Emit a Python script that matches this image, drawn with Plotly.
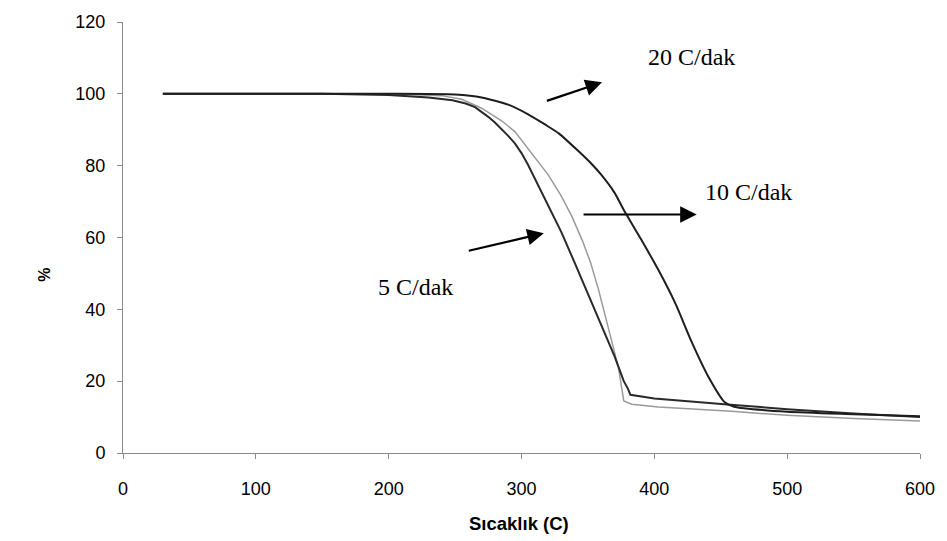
import plotly.graph_objects as go

# 5 C/dak
t5 = [30, 150, 200, 230, 248, 258, 265, 270, 275, 280, 285, 290, 295, 300, 305, 310, 315, 320, 330, 340, 350, 360, 370, 377, 380, 382, 400, 455, 500, 550, 600]
w5 = [100, 100, 99.7, 99.0, 98.2, 97.3, 96.3, 95, 93.6, 92, 90.2, 88.3, 86.2, 83.5, 80.2, 76.5, 72.8, 69, 61.5, 53, 44.5, 35.8, 27, 20, 18, 16.2, 15.2, 13.5, 12.2, 11.0, 10.0]

# 10 C/dak
t10 = [30, 150, 200, 240, 255, 270, 285, 295, 310, 320, 330, 338, 346, 352, 358, 363, 368, 373, 375.5, 377, 383, 403, 458, 500, 550, 600]
w10 = [100, 100, 100, 99.5, 98.5, 96, 92.5, 89.5, 82.5, 77.5, 71.5, 65.8, 59, 53, 45.5, 38.5, 31, 23.7, 18, 14.5, 13.6, 12.8, 11.6, 10.5, 9.6, 8.9]

# 20 C/dak
t20 = [30, 150, 200, 250, 270, 290, 305, 318, 328, 343, 353, 360, 370, 378, 390, 403, 416, 428, 441, 453, 460, 500, 550, 600]
w20 = [100, 100, 100, 99.8, 99, 97, 94.3, 91.4, 89, 84, 80.4, 77.5, 72.5, 67, 59.5, 51, 41.5, 31, 21, 14.1, 12.9, 11.5, 10.8, 10.2]

labels = ["20 C/dak", "10 C/dak", "5 C/dak"]
label_x = [428, 471, 220]
label_y = [110.2, 72.6, 46.2]
arrow_tail_x = [318, 345.6, 259.2]
arrow_tail_y = [97.9, 66.4, 56.2]
arrow_head_x = [360.6, 431.9, 316.8]
arrow_head_y = [103.2, 66.4, 61.2]

fig = go.Figure()
fig.add_trace(go.Scatter(x=t10, y=w10, mode="lines", line=dict(color="#9a9a9a", width=1.5), showlegend=False))
fig.add_trace(go.Scatter(x=t5, y=w5, mode="lines", line=dict(color="#2a2a2a", width=2), showlegend=False))
fig.add_trace(go.Scatter(x=t20, y=w20, mode="lines", line=dict(color="#1e1e1e", width=2, shape="spline", smoothing=0.6),
                         showlegend=False))

serif = "Liberation Serif, Times New Roman, serif"
sans = "Liberation Sans, Arial, sans-serif"

annotations = []
for i in range(3):
    annotations.append(dict(x=label_x[i], y=label_y[i], xref="x", yref="y", text=labels[i],
                            showarrow=False, font=dict(family=serif, size=24, color="black")))
    annotations.append(dict(x=arrow_head_x[i], y=arrow_head_y[i], xref="x", yref="y",
                            ax=arrow_tail_x[i], ay=arrow_tail_y[i], axref="x", ayref="y",
                            text="", showarrow=True, arrowhead=2, arrowsize=1.5, arrowwidth=2.2,
                            arrowcolor="black", standoff=0, startstandoff=0))

annotations.append(dict(x=0.497, y=-0.163, xref="paper", yref="paper", text="<b>Sıcaklık (C)</b>",
                        xanchor="center", yanchor="middle",
                        showarrow=False, font=dict(family=sans, size=18.5, color="black")))
annotations.append(dict(x=-0.099, y=0.414, xref="paper", yref="paper", text="<b>%</b>", textangle=-90,
                        xanchor="center", yanchor="middle",
                        showarrow=False, font=dict(family=sans, size=16, color="black")))
fig.update_layout(annotations=annotations)

fig.update_layout(
    width=947, height=541,
    margin=dict(l=123, r=25, t=16, b=88),
    plot_bgcolor="white", paper_bgcolor="white",
    showlegend=False,
)
fig.update_xaxes(range=[0, 600], dtick=100, tick0=0, showgrid=False, zeroline=False,
                 showline=True, linecolor="#8a8a8a", linewidth=1,
                 ticks="outside", ticklen=5, tickcolor="#8a8a8a", ticklabelstandoff=14,
                 tickfont=dict(family=sans, size=18, color="black"))
fig.update_yaxes(range=[0, 120], dtick=20, tick0=0, showgrid=False, zeroline=False,
                 showline=True, linecolor="#8a8a8a", linewidth=1,
                 ticks="outside", ticklen=5, tickcolor="#8a8a8a", ticklabelstandoff=8,
                 tickfont=dict(family=sans, size=18, color="black"))

fig.write_html("out.html")
